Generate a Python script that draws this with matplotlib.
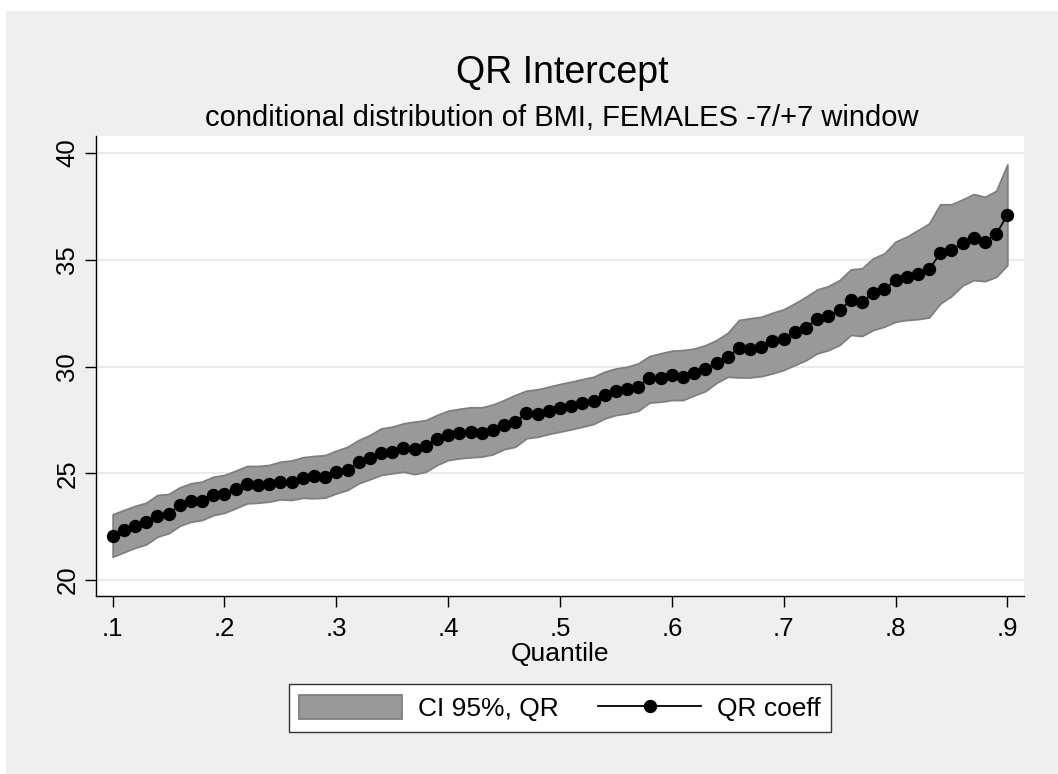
import matplotlib
matplotlib.use("Agg")
import matplotlib.pyplot as plt
from matplotlib.patches import Rectangle, Patch
from matplotlib.lines import Line2D

plt.rcParams['font.family'] = ['Liberation Sans', 'DejaVu Sans']

quantiles = [0.10, 0.11, 0.12, 0.13, 0.14, 0.15, 0.16, 0.17, 0.18, 0.19,
             0.20, 0.21, 0.22, 0.23, 0.24, 0.25, 0.26, 0.27, 0.28, 0.29,
             0.30, 0.31, 0.32, 0.33, 0.34, 0.35, 0.36, 0.37, 0.38, 0.39,
             0.40, 0.41, 0.42, 0.43, 0.44, 0.45, 0.46, 0.47, 0.48, 0.49,
             0.50, 0.51, 0.52, 0.53, 0.54, 0.55, 0.56, 0.57, 0.58, 0.59,
             0.60, 0.61, 0.62, 0.63, 0.64, 0.65, 0.66, 0.67, 0.68, 0.69,
             0.70, 0.71, 0.72, 0.73, 0.74, 0.75, 0.76, 0.77, 0.78, 0.79,
             0.80, 0.81, 0.82, 0.83, 0.84, 0.85, 0.86, 0.87, 0.88, 0.89,
             0.90]

qr_coeff = [22.08, 22.33, 22.54, 22.70, 23.01, 23.11, 23.50, 23.68, 23.72, 23.97,
            24.04, 24.28, 24.50, 24.45, 24.50, 24.61, 24.60, 24.78, 24.87, 24.84,
            25.07, 25.17, 25.53, 25.70, 25.96, 26.01, 26.20, 26.15, 26.28, 26.62,
            26.79, 26.87, 26.92, 26.87, 27.01, 27.25, 27.39, 27.81, 27.76, 27.92,
            28.07, 28.17, 28.31, 28.40, 28.68, 28.87, 28.96, 29.06, 29.48, 29.48,
            29.60, 29.52, 29.72, 29.90, 30.18, 30.44, 30.87, 30.84, 30.93, 31.18,
            31.27, 31.60, 31.82, 32.22, 32.37, 32.65, 33.10, 33.02, 33.43, 33.61,
            34.04, 34.21, 34.32, 34.55, 35.30, 35.45, 35.80, 36.00, 35.85, 36.20,
            37.10]

ci_upper = [23.08, 23.28, 23.47, 23.62, 23.98, 24.03, 24.34, 24.53, 24.61, 24.84,
            24.92, 25.12, 25.34, 25.34, 25.39, 25.54, 25.60, 25.75, 25.81, 25.85,
            26.06, 26.24, 26.56, 26.79, 27.10, 27.18, 27.34, 27.42, 27.49, 27.73,
            27.93, 28.02, 28.09, 28.09, 28.22, 28.43, 28.67, 28.87, 28.93, 29.06,
            29.18, 29.29, 29.41, 29.52, 29.76, 29.91, 29.99, 30.15, 30.49, 30.62,
            30.74, 30.77, 30.84, 31.00, 31.24, 31.58, 32.18, 32.26, 32.33, 32.52,
            32.68, 32.96, 33.27, 33.61, 33.77, 34.05, 34.55, 34.60, 35.07, 35.30,
            35.85, 36.08, 36.39, 36.70, 37.60, 37.60, 37.83, 38.08, 37.95, 38.23,
            39.47]

ci_lower = [21.09, 21.30, 21.51, 21.67, 22.03, 22.19, 22.54, 22.73, 22.81, 23.04,
            23.15, 23.36, 23.59, 23.62, 23.67, 23.78, 23.75, 23.85, 23.83, 23.86,
            24.06, 24.22, 24.53, 24.72, 24.92, 25.00, 25.07, 24.96, 25.07, 25.39,
            25.62, 25.70, 25.75, 25.78, 25.89, 26.13, 26.24, 26.64, 26.71, 26.84,
            26.95, 27.06, 27.18, 27.31, 27.57, 27.73, 27.81, 27.93, 28.31, 28.35,
            28.43, 28.43, 28.65, 28.85, 29.24, 29.52, 29.49, 29.49, 29.55, 29.68,
            29.84, 30.07, 30.30, 30.62, 30.77, 31.01, 31.48, 31.43, 31.71, 31.87,
            32.10, 32.18, 32.22, 32.30, 32.95, 33.30, 33.80, 34.05, 34.00, 34.20,
            34.75]

x_ticks = [0.1, 0.2, 0.3, 0.4, 0.5, 0.6, 0.7, 0.8, 0.9]
x_tick_labels = ['.1', '.2', '.3', '.4', '.5', '.6', '.7', '.8', '.9']
y_ticks = [20, 25, 30, 35, 40]
y_tick_labels = ['20', '25', '30', '35', '40']

W, H = 1058, 774
fig = plt.figure(figsize=(W / 100, H / 100), dpi=100)
fig.patch.set_facecolor('white')
fig.patches.append(Rectangle((6 / W, 0), 1 - 6 / W, (H - 11) / H,
                             transform=fig.transFigure, facecolor='#efefef',
                             edgecolor='none', zorder=-10))

ax = fig.add_axes([96 / W, (H - 596) / H, (1024 - 96) / W, (596 - 136) / H])
ax.set_facecolor('white')

ax.fill_between(quantiles, ci_lower, ci_upper, facecolor='#999999',
                edgecolor='#7f7f7f', linewidth=1.3, zorder=2)
ax.plot(quantiles, qr_coeff, color='black', linewidth=1.3, marker='o',
        markersize=8.6, zorder=3)

ax.set_xlim(0.0851, 0.9149)
ax.set_ylim(19.25, 40.8)
ax.set_xticks(x_ticks)
ax.set_xticklabels(x_tick_labels)
ax.set_yticks(y_ticks)
ax.set_yticklabels(y_tick_labels)
ax.yaxis.grid(True, color='#eaeaea', linewidth=1.5, zorder=0)
ax.set_axisbelow(True)

for s in ['top', 'right']:
    ax.spines[s].set_visible(False)
for s in ['left', 'bottom']:
    ax.spines[s].set_color('black')
    ax.spines[s].set_linewidth(1.0)

ax.tick_params(axis='x', length=8, width=1, pad=7, labelsize=18.5, colors='black')
ax.tick_params(axis='y', length=8, width=1, pad=4, labelsize=18.5, colors='black',
               labelrotation=90)
plt.setp(ax.get_yticklabels(), va='center')

ax.set_xlabel('Quantile', fontsize=19, labelpad=1)

fig.text(562 / W, (H - 83) / H, 'QR Intercept', fontsize=27, ha='center',
         va='baseline')
fig.text(562 / W, (H - 126) / H, 'conditional distribution of BMI, FEMALES -7/+7 window',
         fontsize=21, ha='center', va='baseline')

handles = [Patch(facecolor='#999999', edgecolor='#7f7f7f', linewidth=1.3),
           Line2D([], [], color='black', linewidth=1.3, marker='o', markersize=8.6)]
leg = fig.legend(handles, ['CI 95%, QR', 'QR coeff'], loc='center',
                 bbox_to_anchor=(560 / W, (H - 708) / H),
                 bbox_transform=fig.transFigure, ncol=2, fontsize=19,
                 frameon=True, fancybox=False, framealpha=1,
                 edgecolor='#333333', handlelength=3.9, handleheight=1.05,
                 handletextpad=0.6, columnspacing=1.5, borderpad=0.4,
                 borderaxespad=0)
leg.get_frame().set_linewidth(1.0)

fig.savefig('out.png', dpi=100, facecolor=fig.get_facecolor())
